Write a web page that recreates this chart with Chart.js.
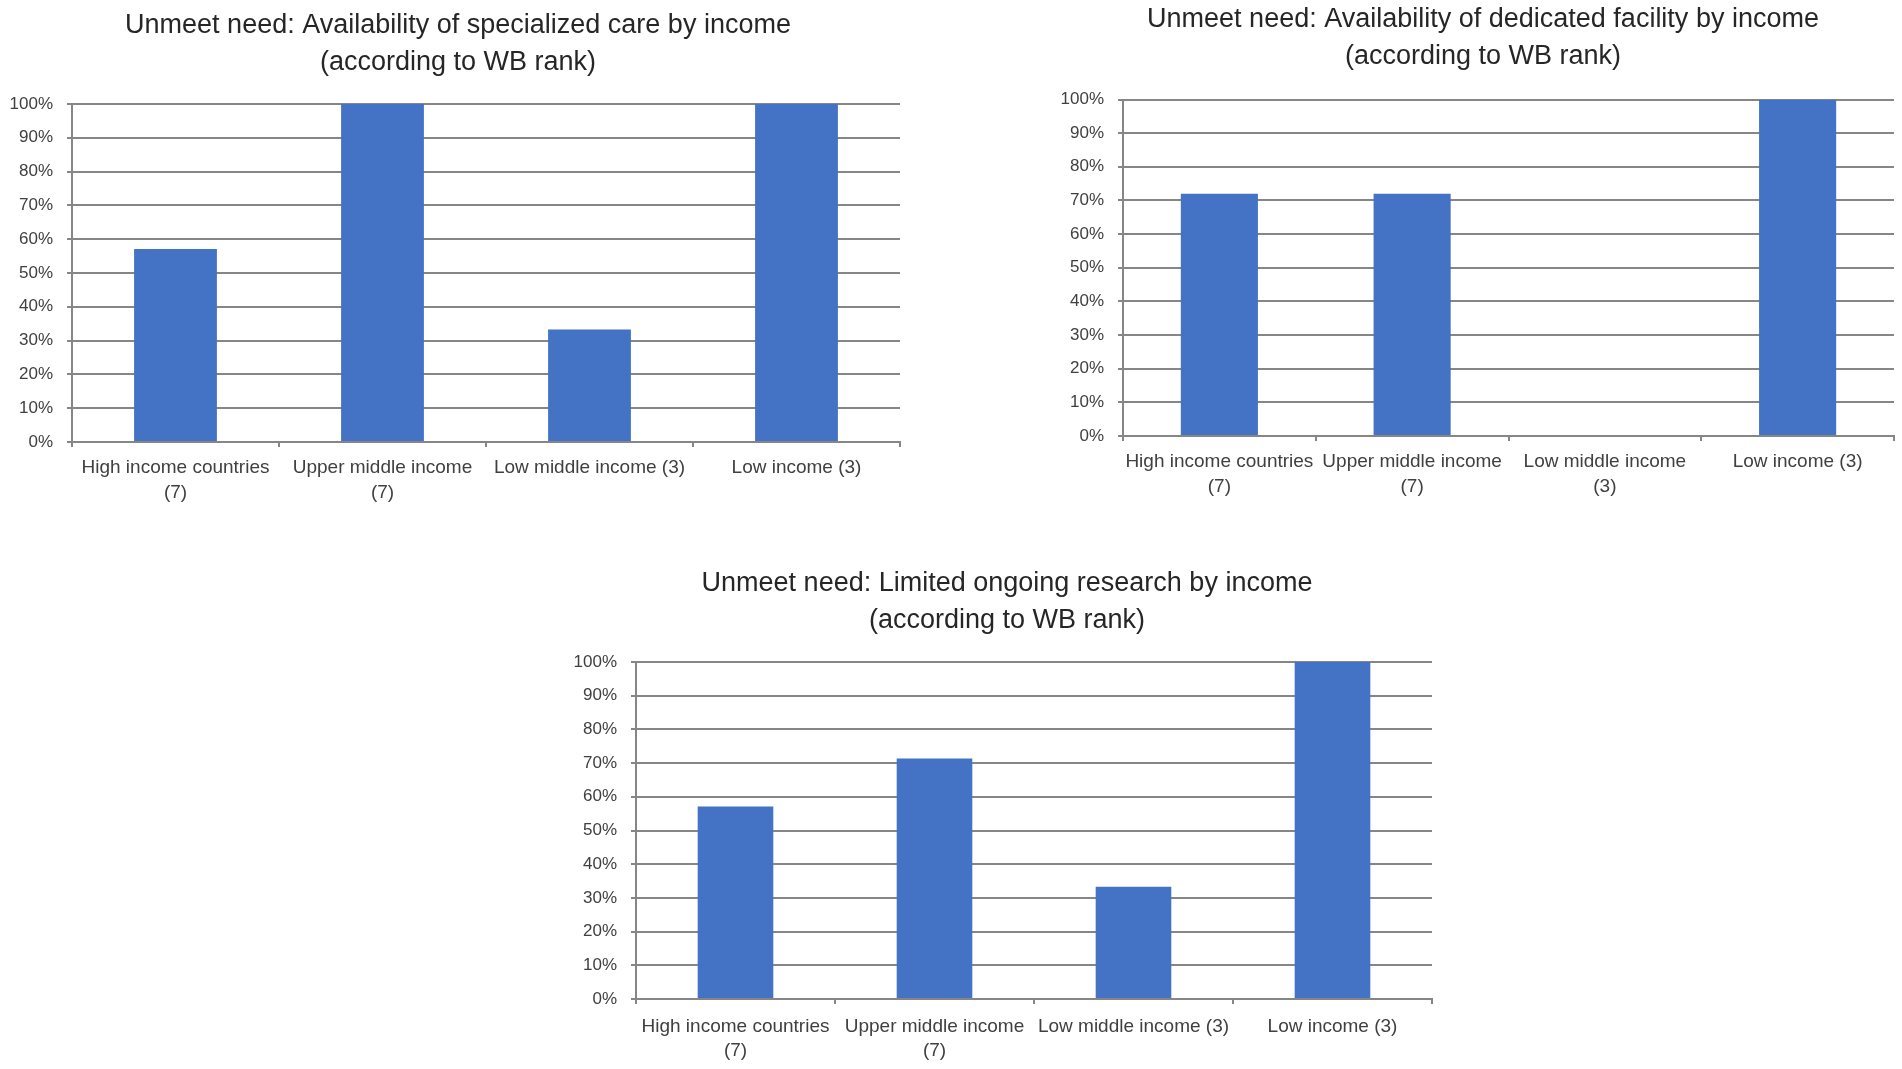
<!DOCTYPE html>
<html><head><meta charset="utf-8">
<script src="https://cdn.jsdelivr.net/npm/chart.js@4.4.1/dist/chart.umd.min.js"></script>
<style>
html,body{margin:0;padding:0;background:#fff;width:1902px;height:1069px;overflow:hidden}
canvas{position:absolute}
</style></head>
<body>
<canvas id="c1" width="916" height="520" style="left:0px;top:0px"></canvas>
<canvas id="c2" width="852" height="520" style="left:1050px;top:0px"></canvas>
<canvas id="c3" width="888" height="529" style="left:560px;top:540px"></canvas>
<script>
// ---- data ----
const categoriesA = [["High income countries","(7)"],["Upper middle income","(7)"],"Low middle income (3)","Low income (3)"];
const categoriesB = [["High income countries","(7)"],["Upper middle income","(7)"],["Low middle income","(3)"],"Low income (3)"];
const specializedCare   = [57.1, 100, 33.3, 100];
const dedicatedFacility = [72, 72, 0, 100];
const ongoingResearch   = [57.1, 71.4, 33.3, 100];
const yTickLabels = ["0%","10%","20%","30%","40%","50%","60%","70%","80%","90%","100%"];
const title1 = ["Unmeet need: Availability of specialized care by income","(according to WB rank)"];
const title2 = ["Unmeet need: Availability of dedicated facility by income","(according to WB rank)"];
const title3 = ["Unmeet need: Limited ongoing research by income","(according to WB rank)"];

const FONT = "'Liberation Sans', Arial, sans-serif";
const GRID = '#868686';

function makeChart(id, cats, vals, title, g) {
  return new Chart(document.getElementById(id), {
    type: 'bar',
    data: { labels: cats, datasets: [{ data: vals, backgroundColor: '#4472C4', borderWidth: 0,
      categoryPercentage: 1, barPercentage: g.bar }] },
    options: {
      responsive: false, animation: false, devicePixelRatio: 1,
      layout: { padding: { left: g.padL, right: g.padR, top: 0, bottom: 0 } },
      plugins: {
        legend: { display: false }, tooltip: { enabled: false },
        title: { display: true, text: title, color: '#262626',
          font: { family: FONT, size: 27, weight: 'normal', lineHeight: g.tlh },
          padding: { top: g.tpt, bottom: g.tpb } }
      },
      scales: {
        x: {
          grid: { display: true, drawOnChartArea: false, drawTicks: true, tickLength: 5, color: GRID, lineWidth: 2, offset: true },
          border: { display: true, color: GRID, width: 2 },
          ticks: { color: '#404040', font: { family: FONT, size: 19, lineHeight: 1.3 }, padding: g.xp,
            maxRotation: 0, minRotation: 0, autoSkip: false },
          afterFit: s => { s.height = g.xH; }
        },
        y: {
          min: 0, max: 100,
          grid: { color: GRID, lineWidth: 2, drawTicks: true, tickLength: 5 },
          border: { display: true, color: GRID, width: 2 },
          ticks: { stepSize: 10, color: '#404040', font: { family: FONT, size: 17 }, padding: 14,
            callback: (v, i) => yTickLabels[i] },
          afterFit: s => { s.width = g.yW; s._computeLabelArea = () => null; }
        }
      }
    }
  });
}

makeChart('c1', categoriesA, specializedCare, title1,
  { padL: 16, padR: 16, yW: 56, xH: 78, tpt: 7.5, tpb: 22.5, tlh: 37/27, xp: 8.5, bar: 0.4 });
makeChart('c2', categoriesB, dedicatedFacility, title2,
  { padL: 22, padR: 8, yW: 51, xH: 84, tpt: 1.5, tpb: 24, tlh: 37/27, xp: 8.5, bar: 0.4 });
makeChart('c3', categoriesA, ongoingResearch, title3,
  { padL: 22, padR: 16, yW: 54, xH: 70, tpt: 25.5, tpb: 22.5, tlh: 37/27, xp: 10, bar: 0.38 });
</script>
</body></html>
